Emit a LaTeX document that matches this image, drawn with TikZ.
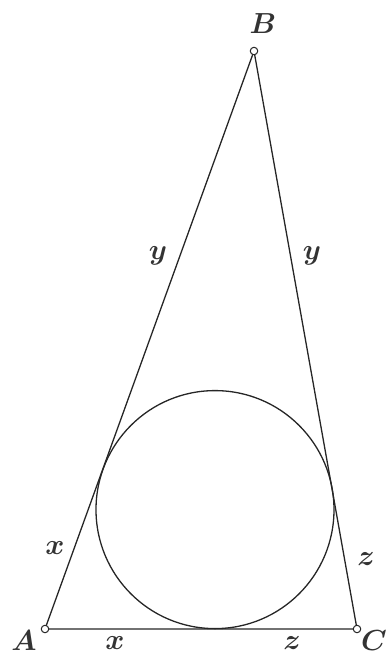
\RequirePackage{fix-cm}
\documentclass[tikz,border=0pt]{standalone}
\begin{document}
\begin{tikzpicture}[x=1pt,y=-1pt,
  edge/.style={line width=1.3pt,black!85},
  vert/.style={circle,draw=black!85,fill=white,line width=1pt,inner sep=0pt,minimum size=7.5pt},
  lab/.style={font=\fontsize{29}{34}\selectfont\boldmath,text=black!80,inner sep=0pt}]
\useasboundingbox (0,0) rectangle (389,657);
\coordinate (A) at (45,629);
\coordinate (B) at (254,51);
\coordinate (C) at (357,629);
\coordinate (O) at (215,509.6);
\draw[edge] (A) -- (B) -- (C) -- cycle;
\draw[edge] (O) circle (119);
\node[vert] (vA) at (A) {};
\node[vert] (vB) at (B) {};
\node[vert] (vC) at (C) {};
\node[lab] (lB) at (263,24) {$B$};
\node[lab] (lA) at (24,641) {$A$};
\node[lab] (lC) at (374,641) {$C$};
\node[lab] (ly1) at (158,256) {$y$};
\node[lab] (ly2) at (312,256) {$y$};
\node[lab] (lx1) at (55,548) {$x$};
\node[lab] (lz1) at (366,559) {$z$};
\node[lab] (lx2) at (115,643) {$x$};
\node[lab] (lz2) at (292,643) {$z$};
\end{tikzpicture}
\end{document}
